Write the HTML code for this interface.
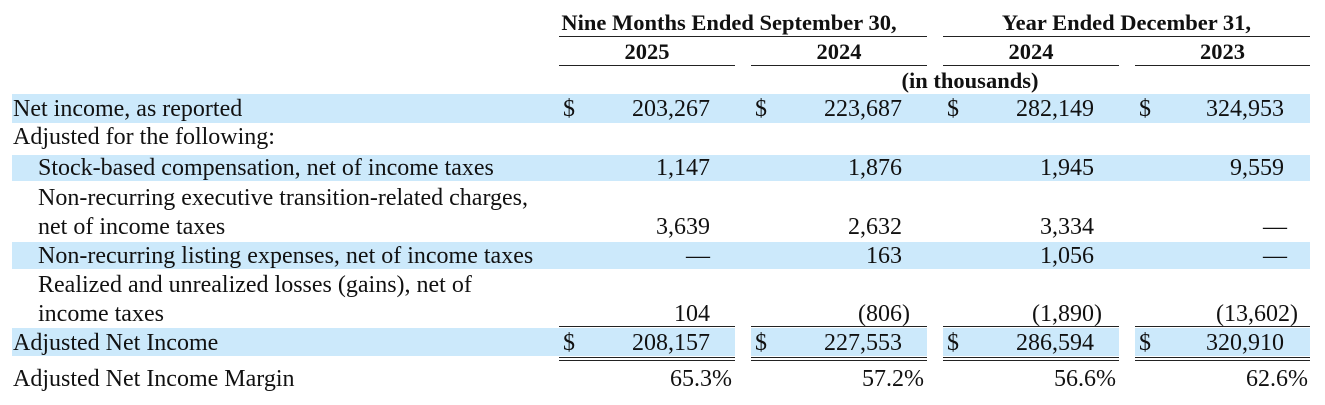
<!DOCTYPE html>
<html><head><style>
body{margin:0;width:1325px;height:405px;background:#fff;position:relative;overflow:hidden;font-family:"Liberation Serif",serif;font-size:24px;color:#111;}
.a{position:absolute;white-space:nowrap;line-height:24px;margin-top:2px;}
.b{font-weight:bold;font-size:22.5px;}
.band{position:absolute;background:#cce9fb;}
.r{text-align:right;}
.ln{position:absolute;height:1.4px;background:#222;}
</style></head><body>
<div class="band" style="left:12px;top:94px;width:1298px;height:29px"></div>
<div class="band" style="left:12px;top:155px;width:1298px;height:26px"></div>
<div class="band" style="left:12px;top:242px;width:1298px;height:27px"></div>
<div class="band" style="left:12px;top:328px;width:547px;height:28px"></div>
<div class="band" style="left:559px;top:328px;width:176px;height:28px"></div>
<div class="band" style="left:751px;top:328px;width:176px;height:28px"></div>
<div class="band" style="left:943px;top:328px;width:176px;height:28px"></div>
<div class="band" style="left:1135px;top:328px;width:175px;height:28px"></div>

<div class="a b" style="left:545px;width:368px;top:9px;text-align:center">Nine Months Ended September 30,</div>
<div class="a b" style="left:943px;width:367px;top:9px;text-align:center">Year Ended December 31,</div>
<div class="ln" style="left:559px;width:368px;top:36px"></div>
<div class="ln" style="left:943px;width:367px;top:36px"></div>
<div class="a b" style="left:559px;width:176px;top:38px;text-align:center">2025</div>
<div class="a b" style="left:751px;width:176px;top:38px;text-align:center">2024</div>
<div class="a b" style="left:943px;width:176px;top:38px;text-align:center">2024</div>
<div class="a b" style="left:1135px;width:175px;top:38px;text-align:center">2023</div>
<div class="ln" style="left:559px;width:176px;top:65px"></div>
<div class="ln" style="left:751px;width:176px;top:65px"></div>
<div class="ln" style="left:943px;width:176px;top:65px"></div>
<div class="ln" style="left:1135px;width:175px;top:65px"></div>
<div class="a b" style="left:751px;width:368px;top:67px;text-align:center;padding-left:70px;box-sizing:border-box">(in thousands)</div>

<div class="a" style="left:13px;top:95px">Net income, as reported</div>
<div class="a" style="left:13px;top:123px">Adjusted for the following:</div>
<div class="a" style="left:38px;top:154px">Stock-based compensation, net of income taxes</div>
<div class="a" style="left:38px;top:184px">Non-recurring executive transition-related charges,</div>
<div class="a" style="left:38px;top:213px">net of income taxes</div>
<div class="a" style="left:38px;top:242px">Non-recurring listing expenses, net of income taxes</div>
<div class="a" style="left:38px;top:271px">Realized and unrealized losses (gains), net of</div>
<div class="a" style="left:38px;top:300px">income taxes</div>
<div class="a" style="left:13px;top:329px">Adjusted Net Income</div>
<div class="a" style="left:13px;top:365px">Adjusted Net Income Margin</div>

<div class="a" style="left:563px;top:95px">$</div><div class="a" style="left:755px;top:95px">$</div><div class="a" style="left:947px;top:95px">$</div><div class="a" style="left:1139px;top:95px">$</div>
<div class="a" style="left:563px;top:329px">$</div><div class="a" style="left:755px;top:329px">$</div><div class="a" style="left:947px;top:329px">$</div><div class="a" style="left:1139px;top:329px">$</div>

<div class="a r" style="right:615px;top:95px">203,267</div>
<div class="a r" style="right:423px;top:95px">223,687</div>
<div class="a r" style="right:231px;top:95px">282,149</div>
<div class="a r" style="right:41px;top:95px">324,953</div>

<div class="a r" style="right:615px;top:154px">1,147</div>
<div class="a r" style="right:423px;top:154px">1,876</div>
<div class="a r" style="right:231px;top:154px">1,945</div>
<div class="a r" style="right:41px;top:154px">9,559</div>

<div class="a r" style="right:615px;top:213px">3,639</div>
<div class="a r" style="right:423px;top:213px">2,632</div>
<div class="a r" style="right:231px;top:213px">3,334</div>
<div class="a r" style="right:38px;top:213px">—</div>

<div class="a r" style="right:615px;top:242px">—</div>
<div class="a r" style="right:423px;top:242px">163</div>
<div class="a r" style="right:231px;top:242px">1,056</div>
<div class="a r" style="right:38px;top:242px">—</div>

<div class="a r" style="right:615px;top:300px">104</div>
<div class="a r" style="right:415px;top:300px">(806)</div>
<div class="a r" style="right:223px;top:300px">(1,890)</div>
<div class="a r" style="right:27px;top:300px">(13,602)</div>
<div class="ln" style="left:559px;width:176px;top:326px"></div>
<div class="ln" style="left:751px;width:176px;top:326px"></div>
<div class="ln" style="left:943px;width:176px;top:326px"></div>
<div class="ln" style="left:1135px;width:175px;top:326px"></div>

<div class="a r" style="right:615px;top:329px">208,157</div>
<div class="a r" style="right:423px;top:329px">227,553</div>
<div class="a r" style="right:231px;top:329px">286,594</div>
<div class="a r" style="right:41px;top:329px">320,910</div>
<div class="ln" style="left:559px;width:176px;top:357px"></div><div class="ln" style="left:559px;width:176px;top:360px"></div>
<div class="ln" style="left:751px;width:176px;top:357px"></div><div class="ln" style="left:751px;width:176px;top:360px"></div>
<div class="ln" style="left:943px;width:176px;top:357px"></div><div class="ln" style="left:943px;width:176px;top:360px"></div>
<div class="ln" style="left:1135px;width:175px;top:357px"></div><div class="ln" style="left:1135px;width:175px;top:360px"></div>

<div class="a r" style="right:593px;top:365px">65.3%</div>
<div class="a r" style="right:401px;top:365px">57.2%</div>
<div class="a r" style="right:209px;top:365px">56.6%</div>
<div class="a r" style="right:17px;top:365px">62.6%</div>
</body></html>
